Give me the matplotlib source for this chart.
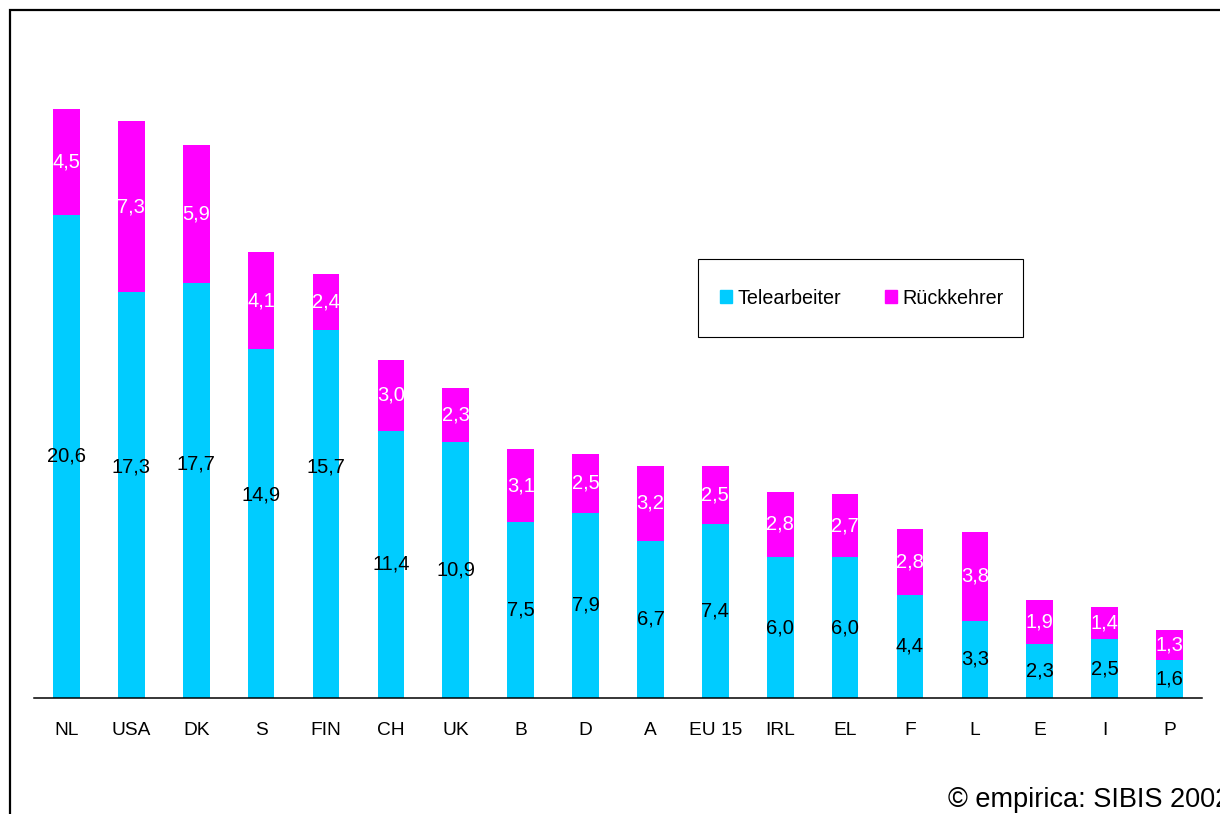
import matplotlib.pyplot as plt
from matplotlib.patches import Rectangle, Patch

plt.rcParams["font.family"] = ["Liberation Sans", "DejaVu Sans"]

COUNTRIES = ["NL", "USA", "DK", "S", "FIN", "CH", "UK", "B", "D", "A",
             "EU 15", "IRL", "EL", "F", "L", "E", "I", "P"]
TELE = [20.6, 17.3, 17.7, 14.9, 15.7, 11.4, 10.9, 7.5, 7.9, 6.7,
        7.4, 6.0, 6.0, 4.4, 3.3, 2.3, 2.5, 1.6]
RUECK = [4.5, 7.3, 5.9, 4.1, 2.4, 3.0, 2.3, 3.1, 2.5, 3.2,
         2.5, 2.8, 2.7, 2.8, 3.8, 1.9, 1.4, 1.3]
# a few cyan labels sit higher than the segment centre in the original
TELE_LABEL_NUDGE = [0, 1.2, 1.15, 1.2, 2.0, 0, 0, 0, 0, 0,
                    0, 0, 0, 0, 0, 0, 0, 0]

CYAN = "#00CCFF"
MAGENTA = "#FF00FF"

fig = plt.figure(figsize=(12.2, 8.14), dpi=100)
ax = fig.add_axes([34 / 1220, 116 / 814, 1168 / 1220, 638 / 814])

xs = range(len(COUNTRIES))
ax.bar(xs, TELE, width=0.41, color=CYAN)
ax.bar(xs, RUECK, width=0.41, bottom=TELE, color=MAGENTA)

fmt = lambda v: f"{v:.1f}".replace(".", ",")
for x, t, r, n in zip(xs, TELE, RUECK, TELE_LABEL_NUDGE):
    ax.text(x, t / 2 + n, fmt(t), ha="center", va="center", fontsize=14.5, color="black")
    ax.text(x, t + r / 2, fmt(r), ha="center", va="center", fontsize=14.5, color="white")

ax.set_xlim(-0.5, len(COUNTRIES) - 0.5)
ax.set_ylim(0, 638 / 23.45)
ax.set_xticks(list(xs))
ax.set_xticklabels(COUNTRIES, fontsize=13.8)
ax.tick_params(axis="x", length=0, pad=17)
ax.set_yticks([])
for side in ["top", "right", "left"]:
    ax.spines[side].set_visible(False)
ax.spines["bottom"].set_linewidth(1.1)

# legend with its own box
fig.patches.append(Rectangle((698 / 1220, 1 - 337 / 814), 325 / 1220, 78 / 814,
                             transform=fig.transFigure, fill=False,
                             edgecolor="black", linewidth=0.8))
handles = [Patch(color=CYAN, label="Telearbeiter"),
           Patch(color=MAGENTA, label="Rückkehrer")]
fig.legend(handles=handles, loc="center", ncol=2, frameon=False, fontsize=14.2,
           bbox_to_anchor=(862 / 1220, 1 - 298 / 814),
           handlelength=0.6, handleheight=0.6, handletextpad=0.3,
           columnspacing=2.2)

# outer frame, runs off the right and bottom edges
fig.patches.append(Rectangle((10 / 1220, -0.2), 1.2, 1.2 - 10 / 814,
                             transform=fig.transFigure, fill=False,
                             edgecolor="black", linewidth=1.6))

# the original's credit line runs off the right edge too
fig.text(948 / 1220, 7 / 814, "© empirica: SIBIS 2002", fontsize=19.5,
         ha="left", va="baseline")

fig.savefig("out.png", dpi=100)
